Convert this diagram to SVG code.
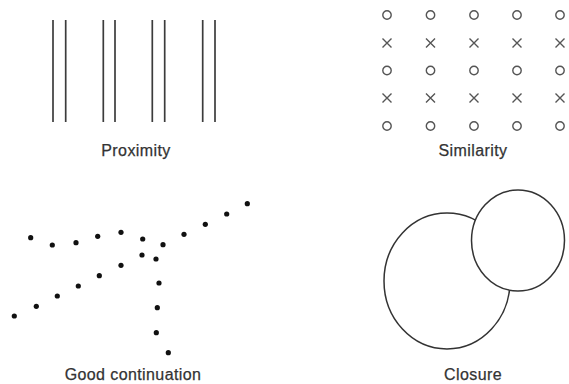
<svg xmlns="http://www.w3.org/2000/svg" width="569" height="384" viewBox="0 0 569 384">
<style>
.lbl{font-family:"Liberation Sans",Arial,sans-serif;font-size:16px;fill:#333;text-anchor:middle;letter-spacing:0.4px;stroke:#333;stroke-width:0.25}
.bar{stroke:#3c3c3c;stroke-width:1.7}
.o{fill:none;stroke:#555;stroke-width:1.4}
.x{stroke:#555;stroke-width:1.4}
.dot{fill:#111}
.ring{fill:#fff;stroke:#333;stroke-width:1.5}
</style>
<defs>
<circle id="oc" r="4.2" class="o"/>
<path id="xm" d="M-4.5,-4.5L4.5,4.5M-4.5,4.5L4.5,-4.5" class="x"/>
<circle id="d" r="2.6" class="dot"/>
</defs>
<rect width="569" height="384" fill="#fff"/>

<g id="proximity">
<g class="bar">
<line x1="53" y1="20" x2="53" y2="122"/>
<line x1="65.7" y1="20" x2="65.7" y2="122"/>
<line x1="103.3" y1="20" x2="103.3" y2="122"/>
<line x1="115" y1="20" x2="115" y2="122"/>
<line x1="152.3" y1="20" x2="152.3" y2="122"/>
<line x1="164.7" y1="20" x2="164.7" y2="122"/>
<line x1="202.7" y1="20" x2="202.7" y2="122"/>
<line x1="215" y1="20" x2="215" y2="122"/>
</g>
<text class="lbl" x="136" y="156">Proximity</text>
</g>

<g id="similarity">
<use href="#oc" x="387" y="15"/><use href="#oc" x="430.5" y="15"/><use href="#oc" x="474" y="15"/><use href="#oc" x="517" y="15"/><use href="#oc" x="560" y="15"/>
<use href="#xm" x="387" y="43"/><use href="#xm" x="430.5" y="43"/><use href="#xm" x="474" y="43"/><use href="#xm" x="517" y="43"/><use href="#xm" x="560" y="43"/>
<use href="#oc" x="387" y="70.5"/><use href="#oc" x="430.5" y="70.5"/><use href="#oc" x="474" y="70.5"/><use href="#oc" x="517" y="70.5"/><use href="#oc" x="560" y="70.5"/>
<use href="#xm" x="387" y="98"/><use href="#xm" x="430.5" y="98"/><use href="#xm" x="474" y="98"/><use href="#xm" x="517" y="98"/><use href="#xm" x="560" y="98"/>
<use href="#oc" x="387" y="126"/><use href="#oc" x="430.5" y="126"/><use href="#oc" x="474" y="126"/><use href="#oc" x="517" y="126"/><use href="#oc" x="560" y="126"/>
<text class="lbl" x="473" y="156">Similarity</text>
</g>

<g id="good-continuation">
<use href="#d" x="30.7" y="237.7"/>
<use href="#d" x="52.3" y="245"/>
<use href="#d" x="76" y="242.7"/>
<use href="#d" x="97.7" y="236.3"/>
<use href="#d" x="121" y="232.3"/>
<use href="#d" x="142.7" y="239"/>
<use href="#d" x="163" y="244.7"/>
<use href="#d" x="184" y="234.3"/>
<use href="#d" x="205.3" y="224.3"/>
<use href="#d" x="226.7" y="214"/>
<use href="#d" x="247.3" y="203.7"/>
<use href="#d" x="14.3" y="316"/>
<use href="#d" x="36.3" y="306.3"/>
<use href="#d" x="57.3" y="296"/>
<use href="#d" x="78.3" y="286"/>
<use href="#d" x="99.3" y="275.7"/>
<use href="#d" x="121" y="265.3"/>
<use href="#d" x="142" y="255"/>
<use href="#d" x="156" y="259"/>
<use href="#d" x="159" y="283"/>
<use href="#d" x="157.3" y="307.7"/>
<use href="#d" x="156.3" y="332.7"/>
<use href="#d" x="168.3" y="352.7"/>
<text class="lbl" x="133" y="380">Good continuation</text>
</g>

<g id="closure">
<ellipse class="ring" cx="447" cy="281" rx="63" ry="68"/>
<ellipse class="ring" cx="518" cy="240.5" rx="46.5" ry="50.5"/>
<text class="lbl" x="473" y="380">Closure</text>
</g>
</svg>
